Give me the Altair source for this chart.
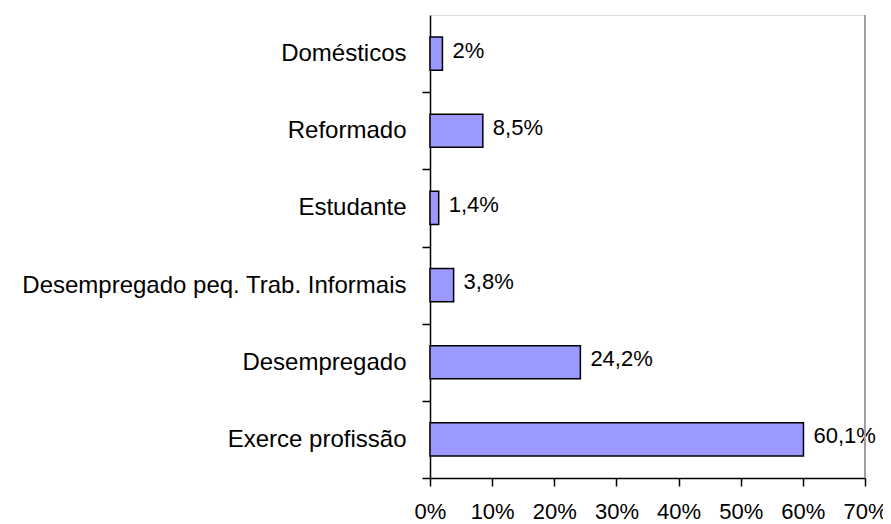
import altair as alt
import pandas as pd

categories = ["Domésticos", "Reformado", "Estudante",
              "Desempregado peq. Trab. Informais", "Desempregado", "Exerce profissão"]
values = [2.0, 8.5, 1.4, 3.8, 24.2, 60.1]
value_labels = ["2%", "8,5%", "1,4%", "3,8%", "24,2%", "60,1%"]
x_ticks = [0, 10, 20, 30, 40, 50, 60, 70]

df = pd.DataFrame({"cat": categories, "val": values, "lab": value_labels})

FONT = "Liberation Sans"
H = 463
STEP = H / len(categories)

y_enc = alt.Y("cat:N", sort=categories,
              scale=alt.Scale(paddingInner=0.57, paddingOuter=0.285),
              axis=alt.Axis(title=None, tickBand="center", tickOffset=STEP / 2,
                            labelOffset=-STEP / 2,
                            tickSize=8, tickColor="black",
                            tickWidth=1.5, domainColor="black", domainWidth=1.5,
                            labelFont=FONT, labelFontSize=24, labelColor="black",
                            labelPadding=16, labelLimit=500, grid=False))
x_enc = alt.X("val:Q", scale=alt.Scale(domain=[0, 70], nice=False),
              axis=alt.Axis(title=None, values=x_ticks, labelExpr="datum.value + '%'",
                            tickSize=8, tickColor="black", tickWidth=1.5,
                            domainColor="black", domainWidth=1.5, grid=False,
                            labelFont=FONT, labelFontSize=22, labelColor="black",
                            labelPadding=15, labelFlush=False))

bars = alt.Chart(df).mark_bar(color="#9999FF", stroke="black", strokeWidth=1.5).encode(
    x=x_enc, y=y_enc)

text = alt.Chart(df).mark_text(align="left", baseline="middle", dx=10, dy=-3,
                               font=FONT, fontSize=22, color="black").encode(
    x="val:Q", y=alt.Y("cat:N", sort=categories), text="lab:N")

right = alt.Chart(df).mark_rule(color="#a0a0a0", strokeWidth=2).encode(
    x=alt.value(435), y=alt.value(0), y2=alt.value(H))

chart = alt.layer(bars, text, right).properties(
    width=435, height=H,
    autosize=alt.AutoSizeParams(type="none"),
    padding={"left": 422, "top": 7, "right": 18, "bottom": 50},
).configure_view(stroke=None).configure(background="white")

chart.save("out.html", embed_options={"renderer": "svg", "actions": False})
